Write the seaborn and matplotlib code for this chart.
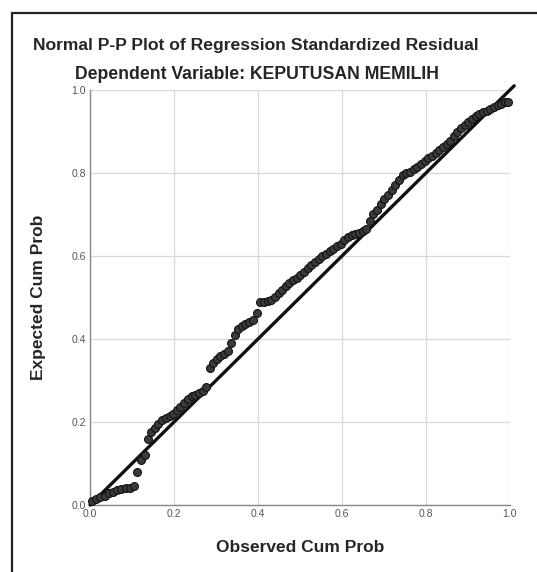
"""Normal P-P plot of regression standardized residual (SPSS style)."""

import matplotlib
matplotlib.use("Agg")
import matplotlib.pyplot as plt
import pandas as pd
import seaborn as sns
from matplotlib.patches import Rectangle

OBSERVED = [
    0.005, 0.015, 0.025, 0.035, 0.045, 0.055, 0.065, 0.075, 0.085, 0.095,
    0.105, 0.112, 0.122, 0.130, 0.138, 0.146, 0.155, 0.163, 0.172, 0.180,
    0.190, 0.198, 0.207, 0.215, 0.224, 0.233, 0.242, 0.250, 0.259, 0.268,
    0.276, 0.285, 0.293, 0.302, 0.310, 0.319, 0.328, 0.336, 0.345, 0.353,
    0.362, 0.370, 0.379, 0.388, 0.397, 0.405, 0.414, 0.423, 0.432, 0.440,
    0.449, 0.458, 0.466, 0.475, 0.484, 0.492, 0.501, 0.510, 0.518, 0.527,
    0.536, 0.545, 0.553, 0.562, 0.571, 0.579, 0.588, 0.597, 0.606, 0.614,
    0.623, 0.632, 0.640, 0.649, 0.658, 0.666, 0.675, 0.684, 0.692, 0.701,
    0.710, 0.718, 0.727, 0.736, 0.745, 0.753, 0.762, 0.771, 0.779, 0.788,
    0.797, 0.805, 0.814, 0.823, 0.832, 0.840, 0.849, 0.858, 0.866, 0.875,
    0.884, 0.892, 0.901, 0.910, 0.919, 0.927, 0.936, 0.945, 0.953, 0.962,
    0.971, 0.979, 0.988, 0.995,
]
EXPECTED = [
    0.010, 0.015, 0.020, 0.022, 0.028, 0.032, 0.035, 0.038, 0.040, 0.042,
    0.045, 0.080, 0.108, 0.120, 0.160, 0.175, 0.185, 0.195, 0.205, 0.210,
    0.215, 0.220, 0.228, 0.235, 0.245, 0.255, 0.262, 0.265, 0.270, 0.275,
    0.285, 0.330, 0.342, 0.352, 0.358, 0.365, 0.372, 0.390, 0.410, 0.425,
    0.432, 0.436, 0.440, 0.445, 0.462, 0.488, 0.490, 0.492, 0.494, 0.500,
    0.510, 0.518, 0.528, 0.536, 0.542, 0.548, 0.555, 0.562, 0.570, 0.578,
    0.586, 0.592, 0.600, 0.606, 0.612, 0.618, 0.625, 0.630, 0.638, 0.645,
    0.650, 0.652, 0.655, 0.660, 0.665, 0.685, 0.700, 0.712, 0.725, 0.738,
    0.748, 0.760, 0.770, 0.782, 0.795, 0.800, 0.803, 0.810, 0.815, 0.822,
    0.828, 0.835, 0.842, 0.848, 0.855, 0.862, 0.870, 0.878, 0.888, 0.898,
    0.908, 0.915, 0.922, 0.930, 0.937, 0.942, 0.946, 0.950, 0.955, 0.960,
    0.963, 0.966, 0.970, 0.972,
]
REF_LINE = [0.0, 1.01]
TICKS = [0.0, 0.2, 0.4, 0.6, 0.8, 1.0]
TICK_LABELS = ["0.0", "0.2", "0.4", "0.6", "0.8", "1.0"]

TITLE = "Normal P-P Plot of Regression Standardized Residual"
SUBTITLE = "Dependent Variable: KEPUTUSAN MEMILIH"


def main() -> None:
    sns.set_style("white")
    plt.rcParams["font.family"] = ["Liberation Sans", "DejaVu Sans"]

    df = pd.DataFrame({"observed": OBSERVED, "expected": EXPECTED})

    fig = plt.figure(figsize=(5.37, 5.72), dpi=100)
    ax = fig.add_axes([0.1676, 0.1171, 0.782, 0.7256])

    # outer frame like the SPSS chart box
    fig.patches.append(Rectangle((0.022, -0.01), 1.0, 0.988, transform=fig.transFigure,
                                 fill=False, edgecolor="#222222", linewidth=1.6))

    ax.plot(REF_LINE, REF_LINE, color="#111111", linewidth=2.4, zorder=3, clip_on=False)
    sns.scatterplot(data=df, x="observed", y="expected", s=32, color="#3a3a3a",
                    edgecolor="#111111", linewidth=0.8, ax=ax, zorder=4, clip_on=False)

    ax.set_xlim(0, 1)
    ax.set_ylim(0, 1)
    ax.set_xticks(TICKS)
    ax.set_yticks(TICKS)
    ax.set_xticklabels(TICK_LABELS)
    ax.set_yticklabels(TICK_LABELS)
    ax.tick_params(axis="both", labelsize=7.5, colors="#555555", length=0, pad=3)
    ax.grid(True, color="#d8d8d8", linewidth=0.9)
    for side in ["top", "right"]:
        ax.spines[side].set_visible(False)
    for side in ["left", "bottom"]:
        ax.spines[side].set_color("#888888")
        ax.spines[side].set_linewidth(1.0)

    ax.set_xlabel("Observed Cum Prob", fontsize=12.5, fontweight="bold", labelpad=15)
    ax.set_ylabel("Expected Cum Prob", fontsize=12.5, fontweight="bold", labelpad=18)

    fig.text(0.477, 0.920, TITLE, ha="center", va="center", fontsize=12.6, fontweight="bold")
    fig.text(0.478, 0.869, SUBTITLE, ha="center", va="center", fontsize=12.7, fontweight="bold")

    fig.savefig("out.png", dpi=100)
    plt.close(fig)


if __name__ == "__main__":
    main()
